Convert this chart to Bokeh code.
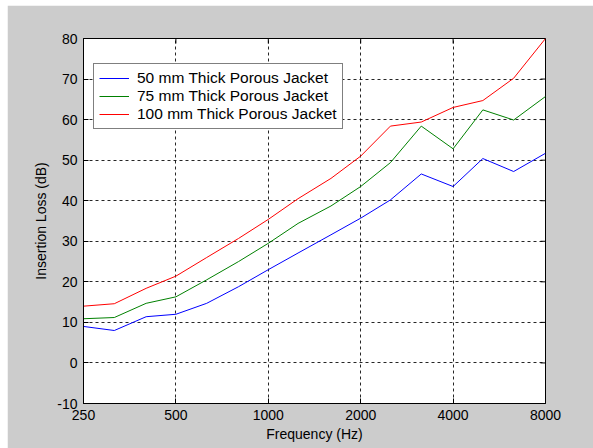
import math
from bokeh.plotting import figure
from bokeh.models import (Range1d, FixedTicker, Legend, LegendItem,
                          NumeralTickFormatter, Spacer)
from bokeh.layouts import column, row
from bokeh.embed import file_html
from bokeh.resources import INLINE

freqs = [250, 315, 400, 500, 630, 800, 1000, 1250, 1600, 2000, 2500, 3150, 4000, 5000, 6300, 8000]
jacket_50 = [9.0, 8.0, 11.4, 12.0, 14.7, 18.8, 23.0, 27.1, 31.6, 35.7, 40.2, 46.6, 43.5, 50.4, 47.2, 51.7]
jacket_75 = [10.9, 11.2, 14.7, 16.3, 20.5, 25.0, 29.5, 34.4, 38.7, 43.5, 49.4, 58.4, 52.8, 62.4, 59.9, 65.7]
jacket_100 = [14.0, 14.6, 18.4, 21.4, 26.0, 30.7, 35.4, 40.5, 45.5, 51.0, 58.4, 59.4, 63.0, 64.7, 70.2, 80.0]
labels = ["50 mm Thick Porous Jacket", "75 mm Thick Porous Jacket", "100 mm Thick Porous Jacket"]
colors = ["#0000ff", "#008000", "#ff0000"]
x_ticks = [250, 500, 1000, 2000, 4000, 8000]
y_ticks = [-10, 0, 10, 20, 30, 40, 50, 60, 70, 80]
x_min, x_max = 250, 8000
y_min, y_max = -10, 80

FONT = "Liberation Sans"
GRAY = "#cccccc"

p = figure(width=586, height=443, x_axis_type="log", output_backend="svg",
           toolbar_location=None, x_range=Range1d(x_min, x_max), y_range=Range1d(y_min, y_max),
           min_border_left=76, min_border_top=33, min_border_right=48, min_border_bottom=45)
p.border_fill_color = GRAY
p.background_fill_color = "white"
p.outline_line_color = "black"
p.outline_line_width = 1

def style_axis(ax):
    ax.major_tick_in = 5
    ax.major_tick_out = 0
    ax.minor_tick_line_color = None
    ax.axis_line_color = "black"
    ax.major_tick_line_color = "black"
    ax.major_label_text_font = FONT
    ax.major_label_text_font_size = "14px"
    ax.major_label_text_color = "black"
    ax.axis_label_text_font = FONT
    ax.axis_label_text_font_size = "14px"
    ax.axis_label_text_font_style = "normal"
    ax.axis_label_text_color = "black"

xa = p.xaxis[0]
xa.ticker = FixedTicker(ticks=x_ticks)
xa.formatter = NumeralTickFormatter(format="0")
xa.axis_label = "Frequency (Hz)"
style_axis(xa)
xa.major_label_standoff = 6
xa.axis_label_standoff = 3

ya = p.yaxis[0]
ya.ticker = FixedTicker(ticks=y_ticks)
ya.formatter = NumeralTickFormatter(format="0")
ya.axis_label = "Insertion Loss (dB)"
style_axis(ya)
ya.major_label_standoff = 6
ya.axis_label_standoff = 5

for g in p.grid:
    g.grid_line_color = "black"
    g.grid_line_alpha = 0.85
    g.grid_line_dash = "3 3"
    g.grid_line_width = 1
p.xgrid.ticker = FixedTicker(ticks=x_ticks)
p.ygrid.ticker = FixedTicker(ticks=y_ticks)

# mirrored inner ticks on the top and right frame edges (half of each dash is clipped)
p.scatter(x=x_ticks, y=[y_max] * len(x_ticks), marker="dash", size=10,
          angle=math.pi / 2, line_color="black", line_width=1)
p.scatter(x=[x_max] * len(y_ticks), y=y_ticks, marker="dash", size=10,
          line_color="black", line_width=1)

renderers = []
for ys, c in zip([jacket_50, jacket_75, jacket_100], colors):
    r = p.line(freqs, ys, line_color=c, line_width=1)
    renderers.append(r)

legend = Legend(items=[LegendItem(label=l, renderers=[r]) for l, r in zip(labels, renderers)],
                location=(10, 274))
legend.border_line_color = "black"
legend.border_line_width = 1
legend.background_fill_color = "white"
legend.background_fill_alpha = 1
legend.label_text_font = FONT
legend.label_text_font_size = "15.5px"
legend.label_text_color = "black"
legend.glyph_width = 30
legend.glyph_height = 18
legend.label_height = 18
legend.spacing = 0
legend.padding = 5
legend.margin = 0
legend.label_standoff = 8
p.add_layout(legend, "center")

layout = column(Spacer(height=5, width=593), row(Spacer(width=7, height=443), p))
open("out.html", "w").write(file_html(layout, INLINE))
